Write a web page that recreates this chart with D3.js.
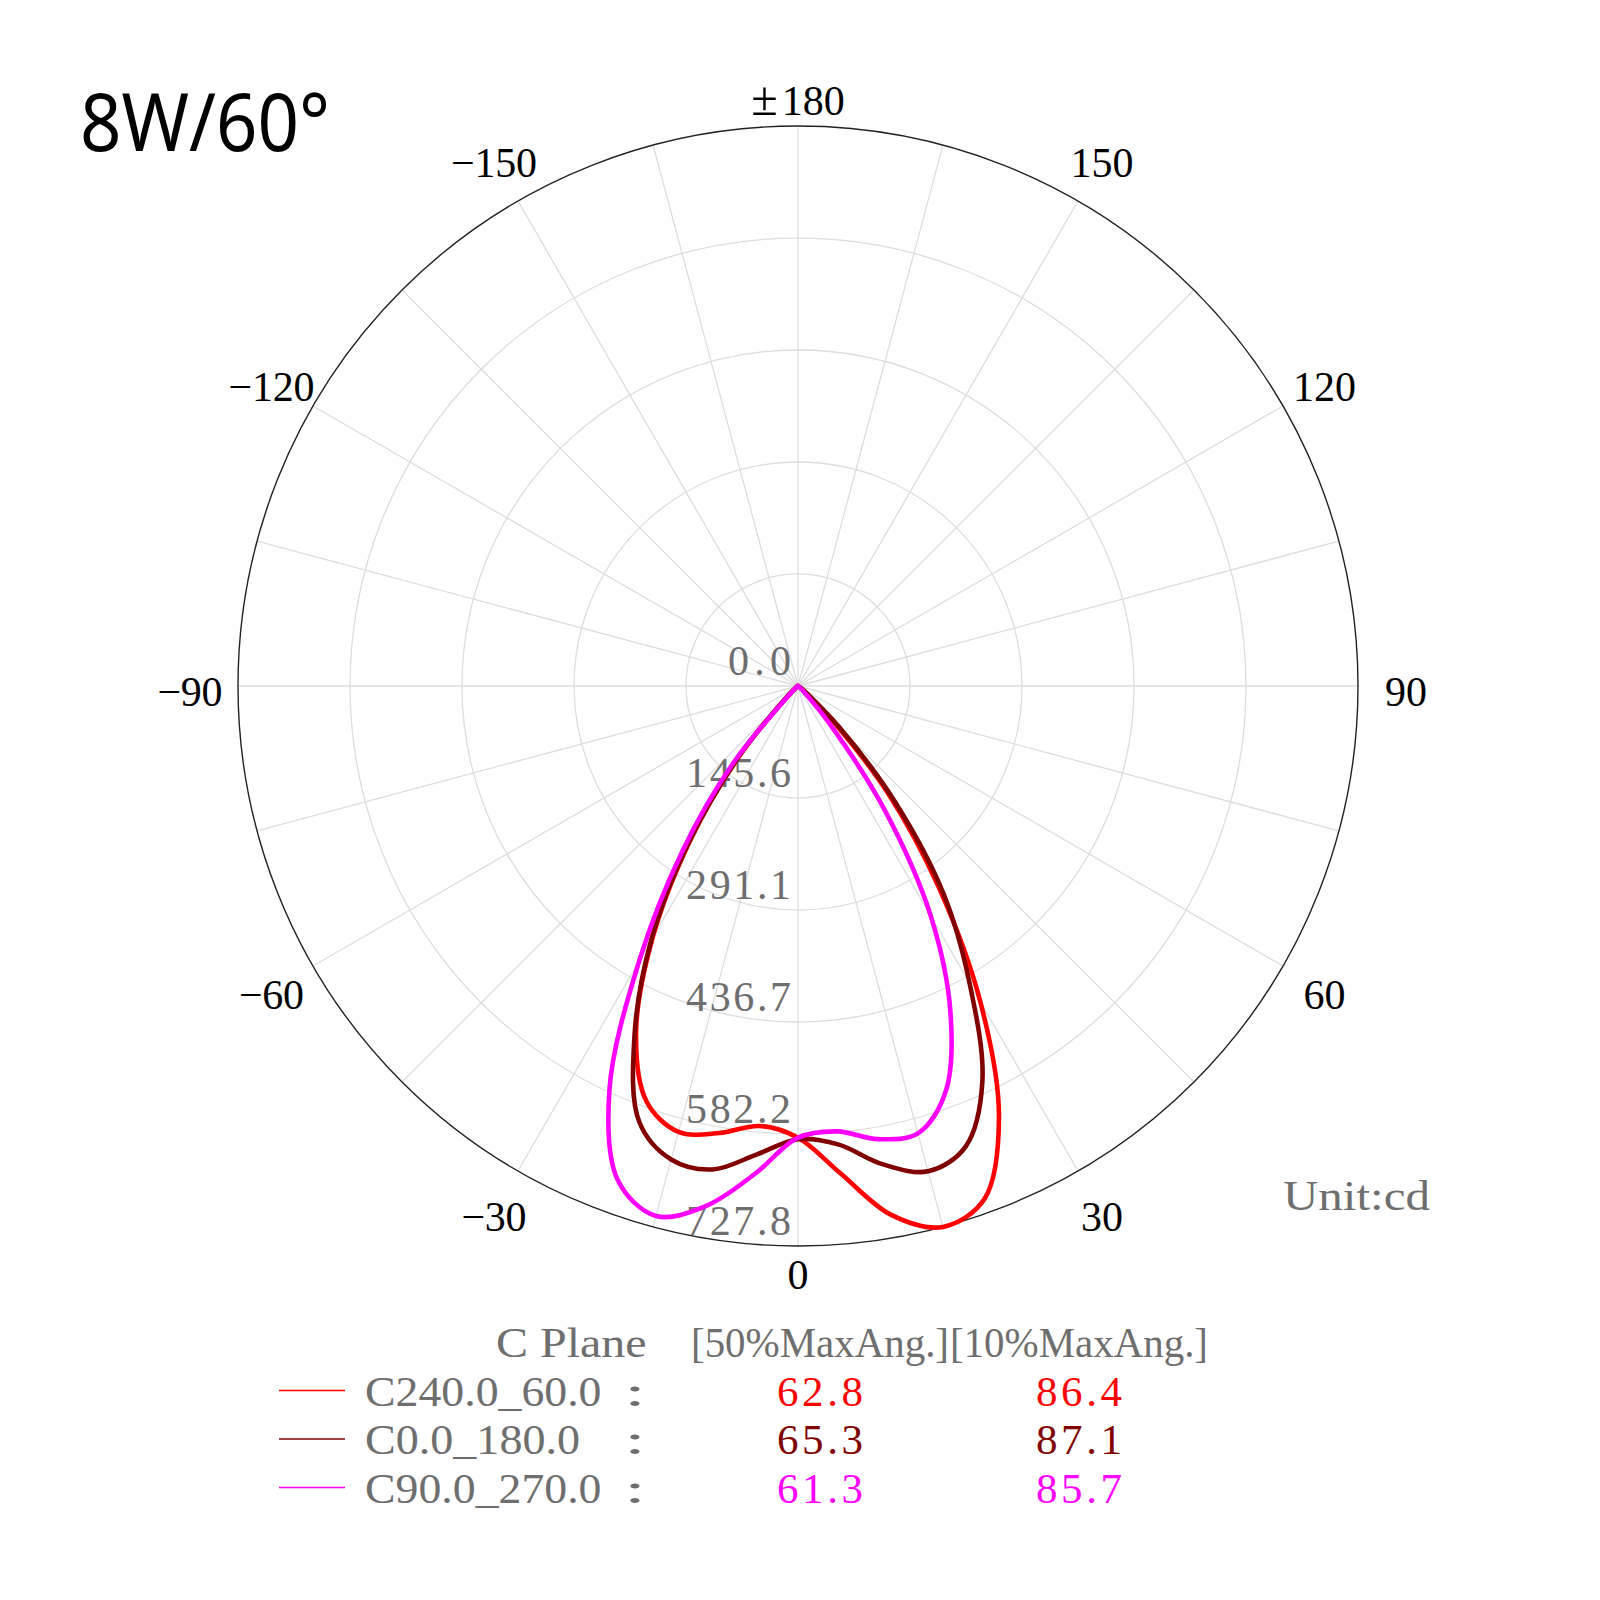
<!DOCTYPE html>
<html>
<head>
<meta charset="utf-8">
<script src="https://cdn.jsdelivr.net/npm/d3@7"></script>
<style>
  body { margin: 0; background: #fff; }
</style>
</head>
<body>
<svg id="chart" width="1600" height="1600"></svg>
<script>
// gamma angles (deg) of one half plane, 0 = straight down
var gammaDeg = [0, 5, 10, 15, 20, 25, 30, 35, 40, 45, 50, 55, 60, 65, 70, 75, 80, 85, 90];

// luminous intensity (cd)
var c60  = [587, 636, 698, 727.8, 709, 618, 474, 318, 182, 62, 12, 4, 1, 0, 0, 0, 0, 0, 0];
var c240 = [587, 574, 590, 600, 575, 498, 378, 243, 118, 22, 5, 2, 0, 0, 0, 0, 0, 0, 0];
var c0   = [589, 598, 631, 653, 637, 567, 446, 330, 195, 76, 15, 5, 1, 0, 0, 0, 0, 0, 0];
var c180 = [589, 611, 638, 637, 603, 503, 382, 246, 120, 24, 5, 2, 0, 0, 0, 0, 0, 0, 0];
var c90  = [587, 581, 598, 602, 561, 469, 345, 195, 63, 12, 3, 1, 0, 0, 0, 0, 0, 0, 0];
var c270 = [587, 636, 686, 713, 684, 580, 413, 262, 132, 16, 4, 1, 0, 0, 0, 0, 0, 0, 0];

var angleTicks  = [-150, -120, -90, -60, -30, 0, 30, 60, 90, 120, 150, 180];
var angleLabels = ["\u2212150", "\u2212120", "\u221290", "\u221260", "\u221230", "0", "30", "60", "90", "120", "150", "\u00b1180"];
var ringValues  = [0, 145.6, 291.1, 436.7, 582.2, 727.8];
var ringLabels  = ["0.0", "145.6", "291.1", "436.7", "582.2", "727.8"];

var planeNames  = ["C240.0_60.0", "C0.0_180.0", "C90.0_270.0"];
var planeColors = ["#ff0000", "#800000", "#ff00ff"];
var halfMaxAng  = ["62.8", "65.3", "61.3"];
var tenthMaxAng = ["86.4", "87.1", "85.7"];

var series = [
  {left: c240, right: c60, color: planeColors[0]},
  {left: c180, right: c0,  color: planeColors[1]},
  {left: c270, right: c90, color: planeColors[2]}
];

var svg = d3.select("#chart");
var cx = 798, cy = 686, R = 560;
var fs = 42;
var serif = "'Liberation Serif', 'DejaVu Serif', serif";
var grey = "#6e6e6e";

var rScale = d3.scaleLinear().domain([0, 727.8]).range([0, R]);
// gamma -> d3 radial angle (0 = up, clockwise)
var aScale = d3.scaleLinear().domain([0, 180]).range([Math.PI, 0]);

// width of a string in the half-width font
function textW(s, size) {
  var w = 0;
  for (var i = 0; i < s.length; i++) {
    var c = s[i];
    if (c === "\u2212") w += size * 0.55;
    else w += size * 0.5;
  }
  return w;
}

function addText(str, x, y, anchor, color, size) {
  size = size || fs;
  var numeric = /^[0-9.\u2212]+$/.test(str);
  var t = svg.append("text")
    .attr("x", x).attr("y", y)
    .attr("text-anchor", anchor)
    .attr("font-family", serif)
    .attr("font-size", size)
    .attr("fill", color);
  if (str[0] === "\u00b1") {
    // full-width plus-minus followed by the digits
    t.append("tspan").attr("font-size", size * 1.15).text("\u00b1");
    t.append("tspan").attr("dx", 4).text(str.slice(1));
    return t;
  }
  return t.attr("textLength", textW(str, size))
    .attr("lengthAdjust", numeric ? "spacing" : "spacingAndGlyphs")
    .text(str);
}

// title
svg.append("text")
  .attr("x", 80).attr("y", 151)
  .attr("font-family", "'Noto Sans', 'Open Sans', sans-serif")
  .attr("font-size", 80)
  .attr("textLength", 250)
  .attr("lengthAdjust", "spacingAndGlyphs")
  .attr("fill", "#000")
  .text("8W/60\u00b0");

var grid = svg.append("g").attr("transform", "translate(" + cx + "," + cy + ")");

// spokes every 15 deg
grid.selectAll("line.spoke")
  .data(d3.range(-180, 180, 15))
  .enter().append("line")
  .attr("class", "spoke")
  .attr("x1", 0).attr("y1", 0)
  .attr("x2", function(d) { return R * Math.sin(aScale(d)); })
  .attr("y2", function(d) { return -R * Math.cos(aScale(d)); })
  .attr("stroke", "#dddddd")
  .attr("stroke-width", 1.3);

// rings
grid.selectAll("circle.ring")
  .data(ringValues.slice(1))
  .enter().append("circle")
  .attr("class", "ring")
  .attr("r", function(d) { return rScale(d); })
  .attr("fill", "none")
  .attr("stroke", function(d, i, n) { return i === n.length - 1 ? "#222" : "#dddddd"; })
  .attr("stroke-width", function(d, i, n) { return i === n.length - 1 ? 1.4 : 1.3; });

// ring labels
ringValues.forEach(function(v, i) {
  addText(ringLabels[i], cx - 7, cy + rScale(v) - 11, "end", grey);
});

// angle labels
angleTicks.forEach(function(t, i) {
  var lab = angleLabels[i];
  var a = aScale(t);
  var s = Math.abs(Math.sin(a));
  var rr = R + 27 + (s > 0.01 ? 21 : 0);
  var x = cx + rr * Math.sin(a);
  var y = cy - rr * Math.cos(a) + 2 + 4 * s + 14;
  addText(lab, x, y, "middle", "#000");
});

addText("Unit:cd", cx + R * Math.cos(Math.PI / 6), cy + R * 0.935, "start", grey);

// intensity curves
var line = d3.lineRadial()
  .angle(function(d) { return aScale(d[0]); })
  .radius(function(d) { return rScale(d[1]); })
  .curve(d3.curveCatmullRom.alpha(0.5));

var curves = svg.append("g").attr("transform", "translate(" + cx + "," + cy + ")");
series.forEach(function(s) {
  var pts = [];
  for (var i = gammaDeg.length - 1; i > 0; i--) pts.push([-gammaDeg[i], s.left[i]]);
  for (var j = 0; j < gammaDeg.length; j++) pts.push([gammaDeg[j], s.right[j]]);
  curves.append("path")
    .attr("d", line(pts))
    .attr("fill", "none")
    .attr("stroke", s.color)
    .attr("stroke-width", 4.6)
    .attr("stroke-linejoin", "round")
    .attr("stroke-linecap", "round");
});

// legend table
var legendY = cy + R + 111;
var rowH = 48.5;
var col1 = 820, col2 = 1079;
addText("C Plane", 496, legendY, "start", grey, 43);
addText("[50%MaxAng.]", col1, legendY, "middle", grey, 43);
addText("[10%MaxAng.]", col2, legendY, "middle", grey, 43);

planeNames.forEach(function(name, i) {
  var y = legendY + rowH * (i + 1);
  svg.append("line")
    .attr("x1", 279).attr("x2", 345)
    .attr("y1", y - 15).attr("y2", y - 15)
    .attr("stroke", planeColors[i])
    .attr("stroke-width", 1.5);
  addText(name, 365, y, "start", grey, 43);
  addText(":", 635, y, "middle", grey, 43);
  addText(halfMaxAng[i], col1, y, "middle", planeColors[i], 43);
  addText(tenthMaxAng[i], col2, y, "middle", planeColors[i], 43);
});
</script>
</body>
</html>
